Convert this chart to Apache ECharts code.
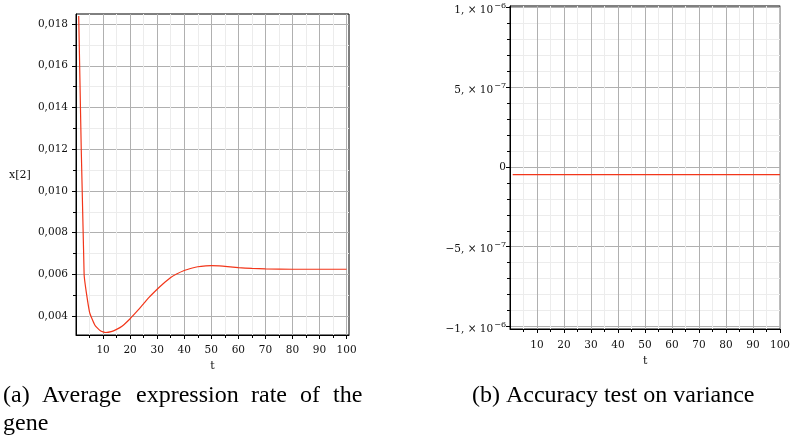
<!DOCTYPE html>
<html><head><meta charset="utf-8">
<script src="https://cdn.jsdelivr.net/npm/echarts@6/dist/echarts.min.js"></script>
<style>html,body{margin:0;padding:0;background:#fff}#c{width:793px;height:441px}</style>
</head><body><div id="c"></div>
<script>
// ---- data: panel (a) ----
const tA = [1, 3, 5, 7, 9, 11, 13, 15, 17, 20, 23, 25, 27, 30, 32, 35, 37, 40, 43, 45, 48, 50, 53, 56, 60, 65, 70, 80, 90, 100];
const xA = [0.01838, 0.00600, 0.00420, 0.00357, 0.00330, 0.00322, 0.00326, 0.00337, 0.00352, 0.00388, 0.00430, 0.00460, 0.00490, 0.00529, 0.00553, 0.00585, 0.00601, 0.00619, 0.00631, 0.00637, 0.00641, 0.00642, 0.00641, 0.00638, 0.00633, 0.00629, 0.00627, 0.00625, 0.00625, 0.00625];
// ---- data: panel (b) ----
const tB = [1, 100];
const vB = [-4.8e-8, -4.8e-8];
// ---- tick values / labels ----
const xTicks = [10, 20, 30, 40, 50, 60, 70, 80, 90, 100];
const xMinor = [5, 15, 25, 35, 45, 55, 65, 75, 85, 95];
const yATicks = [0.004, 0.006, 0.008, 0.010, 0.012, 0.014, 0.016, 0.018];
const yAMinor = [0.005, 0.007, 0.009, 0.011, 0.013, 0.015, 0.017];
const yBTicks = [-1e-6, -5e-7, 0, 5e-7, 1e-6];
const yBMantissa = ['−1, × 10', '−5, × 10', '0', '5, × 10', '1, × 10'];
const yBExp = ['−6', '−7', '', '−7', '−6'];
const yBMinor = [-9e-7, -8e-7, -7e-7, -6e-7, -4e-7, -3e-7, -2e-7, -1e-7, 1e-7, 2e-7, 3e-7, 4e-7, 6e-7, 7e-7, 8e-7, 9e-7];
const captionA1 = ['(a)', 'Average', 'expression', 'rate', 'of', 'the'];
const captionA2 = 'gene';
const captionB = '(b) Accuracy test on variance';

const SERIF = 'DejaVu Serif';
const MAJOR = '#b0b0b0', MINOR = '#ececec';

function minorAxis(grid, vals, pos, min, max) {
  return {
    type: 'value', gridIndex: grid, position: pos, min: min, max: max,
    axisLine: {show: false, onZero: false},
    axisTick: {show: true, inside: false, length: 3, customValues: vals, lineStyle: {color: '#000'}},
    axisLabel: {show: false},
    splitLine: {show: true, lineStyle: {color: MINOR, width: 1}}
  };
}
function majorAxis(grid, vals, pos, min, max, fmt, extra) {
  return Object.assign({
    type: 'value', gridIndex: grid, position: pos, min: min, max: max,
    axisLine: {show: true, onZero: false, lineStyle: {color: '#000', width: 1}},
    axisTick: {show: true, length: 4, customValues: vals, lineStyle: {color: '#000'}},
    axisLabel: {show: true, customValues: vals, formatter: fmt, fontFamily: SERIF, fontSize: 10.5, color: '#111', margin: 8},
    splitLine: {show: true, lineStyle: {color: MAJOR, width: 1}}
  }, extra || {});
}
function nearestIdx(arr, v) {
  let b = 0;
  for (let i = 1; i < arr.length; i++) if (Math.abs(arr[i] - v) < Math.abs(arr[b] - v)) b = i;
  return b;
}
function yBFormat(v) {
  const i = nearestIdx(yBTicks, v);
  if (!yBExp[i]) return yBMantissa[i];
  return '{m|' + yBMantissa[i] + '}{s|' + yBExp[i] + '}';
}

const chart = echarts.init(document.getElementById('c'), null, {renderer: 'canvas'});

// caption word positions (justified first line)
const capXA = [3, 42, 136, 251, 300, 333];
const CAPFONT = '24px "Liberation Serif"';
const graphics = captionA1.map((w, i) => ({
  type: 'text', left: capXA[i], top: 384,
  style: {text: w, font: CAPFONT, fill: '#000'}
}));
graphics.push({type: 'text', left: 3, top: 412, style: {text: captionA2, font: CAPFONT, fill: '#000'}});
graphics.push({type: 'text', left: 472, top: 384, style: {text: captionB, font: CAPFONT, fill: '#000'}});
graphics.push({type: 'text', left: 9, top: 170, style: {text: 'x[2]', font: '11px "DejaVu Serif"', fill: '#111'}});

const xName = {name: 't', nameLocation: 'middle', nameTextStyle: {fontFamily: SERIF, fontSize: 11, color: '#111'}};

chart.setOption({
  animation: false,
  backgroundColor: '#fff',
  grid: [
    {left: 76, top: 14, width: 273, height: 321, show: true, borderColor: '#000', borderWidth: 1, backgroundColor: 'transparent'},
    {left: 510, top: 6, width: 278, height: 323, show: true, borderColor: '#000', borderWidth: 1, backgroundColor: 'transparent'}
  ],
  xAxis: [
    minorAxis(0, xMinor, 'bottom', 0, 100.9),
    majorAxis(0, xTicks, 'bottom', 0, 100.9, v => String(Math.round(v)),
      Object.assign({nameGap: 19,
        axisLabel: {show: true, customValues: xTicks, formatter: v => String(Math.round(v)), fontFamily: SERIF, fontSize: 10.5, color: '#111', margin: 10}}, xName)),
    minorAxis(1, xMinor, 'bottom', 0, 100.1),
    majorAxis(1, xTicks, 'bottom', 0, 100.1, v => String(Math.round(v)),
      Object.assign({nameGap: 20,
        axisLabel: {show: true, customValues: xTicks, formatter: v => String(Math.round(v)), fontFamily: SERIF, fontSize: 10.5, color: '#111', margin: 11}}, xName))
  ],
  yAxis: [
    minorAxis(0, yAMinor, 'left', 0.0031, 0.01848),
    majorAxis(0, yATicks, 'left', 0.0031, 0.01848, v => v.toFixed(3).replace('.', ',')),
    minorAxis(1, yBMinor, 'left', -1.016e-6, 1.01e-6),
    majorAxis(1, yBTicks, 'left', -1.016e-6, 1.01e-6, yBFormat, {
      axisLabel: {show: true, customValues: yBTicks, fontFamily: SERIF, fontSize: 10.5, color: '#111', margin: 4,
        formatter: yBFormat,
        rich: {
          m: {fontFamily: SERIF, fontSize: 10.5, color: '#111', padding: [6, 0, 0, 0], verticalAlign: 'middle'},
          s: {fontFamily: SERIF, fontSize: 8, color: '#111', padding: [0, 0, 3, 1], verticalAlign: 'middle'}
        }}})
  ],
  series: [
    {type: 'line', xAxisIndex: 1, yAxisIndex: 1, data: tA.map((t, i) => [t, xA[i]]),
      showSymbol: false, smooth: 0.15, lineStyle: {color: '#f2361a', width: 1.2}, z: 5},
    {type: 'line', xAxisIndex: 3, yAxisIndex: 3, data: tB.map((t, i) => [t, vB[i]]),
      showSymbol: false, lineStyle: {color: '#f2361a', width: 1.2}, z: 5}
  ],
  graphic: graphics
});
</script>
</body></html>
